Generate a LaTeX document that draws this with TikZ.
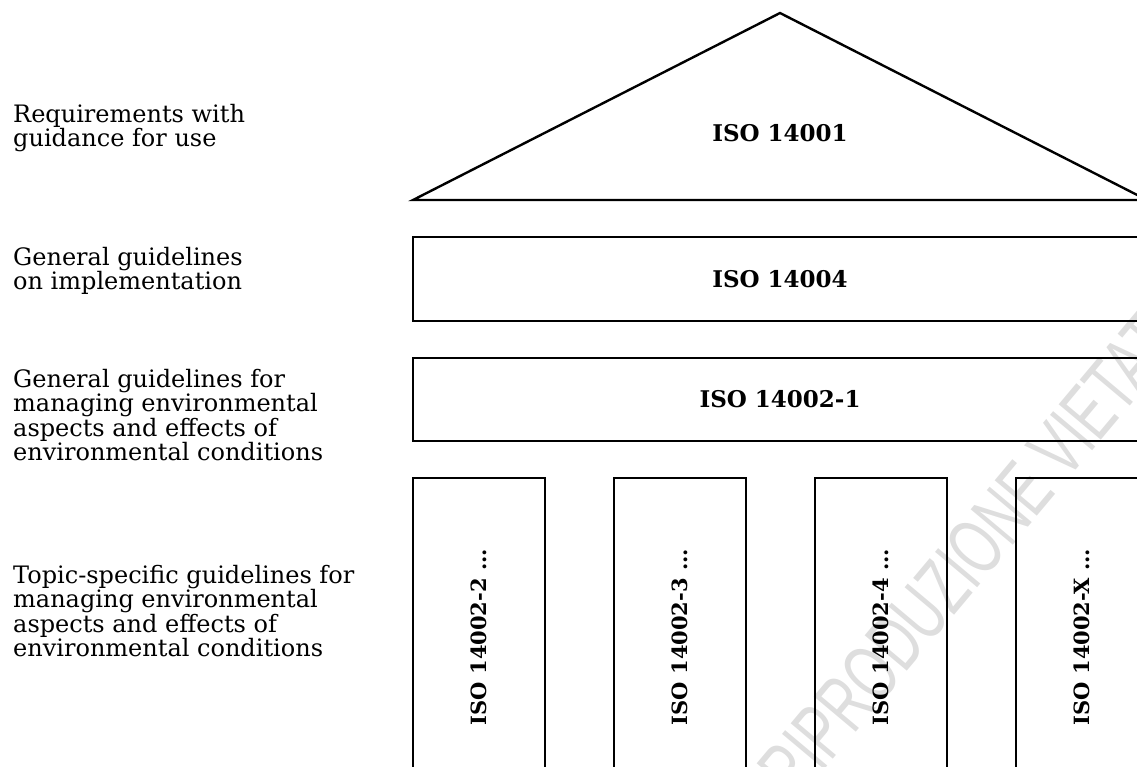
\documentclass[tikz,border=0pt]{standalone}
\usepackage{fontspec}
\setmainfont{DejaVu Serif}
\newfontfamily\wmfont{Liberation Sans}
\begin{document}
\begin{tikzpicture}[x=1pt,y=-1pt,line width=2.4pt,font=\fontsize{24}{24.5}\selectfont]

\tikzstyle{band}=[draw=black,line width=2.4pt,minimum width=734pt,inner sep=0pt]
\tikzstyle{pillar}=[draw=black,line width=2.4pt,minimum width=132pt,minimum height=318pt,inner sep=0pt]
\tikzstyle{iso}=[font=\fontsize{23}{26}\selectfont\bfseries]
\tikzstyle{isovert}=[font=\fontsize{21}{24}\selectfont\bfseries,rotate=90]
\tikzstyle{desc}=[anchor=west,align=left,inner sep=0pt]

    \useasboundingbox (0,0) rectangle (1137,766);
    \clip (0,0) rectangle (1137,766);

    % watermark
    \node[rotate=50,anchor=base west,text=black!13,font=\fontsize{80}{80}\wmfont,xscale=.66] (wm) at (795,805) {RIPRODUZIONE VIETATA};

    % roof
    \coordinate (apex) at (780,13);
    \coordinate (bl) at (413,200);
    \coordinate (br) at (1147,200);
    \draw (bl) -- (apex) -- (br) -- cycle;
    \node[iso] (s14001) at (780,133) {ISO 14001};

    % bands
    \node[band,minimum height=84pt] (s14004) at (780,279) {};
    \node[iso] at (s14004.center) {ISO 14004};
    \node[band,minimum height=83pt] (s140021) at (780,399.5) {};
    \node[iso] at (s140021.center) {ISO 14002-1};

    % pillars
    \node[pillar] (p2) at (479,637) {};
    \node[pillar] (p3) at (680,637) {};
    \node[pillar] (p4) at (881,637) {};
    \node[pillar] (px) at (1082,637) {};
    \node[isovert] at (p2.center) {ISO 14002-2 ...};
    \node[isovert] at (p3.center) {ISO 14002-3 ...};
    \node[isovert] at (p4.center) {ISO 14002-4 ...};
    \node[isovert] at (px.center) {ISO 14002-X ...};

    % descriptions
    \node[desc] (d1) at (12,128) {Requirements with\\guidance for use};
    \node[desc] (d2) at (12,271) {General guidelines\\on implementation};
    \node[desc] (d3) at (12,415) {General guidelines for\\managing environmental\\aspects and effects of\\environmental conditions};
    \node[desc] (d4) at (12,611) {Topic-specific guidelines for\\managing environmental\\aspects and effects of\\environmental conditions};

\end{tikzpicture}
\end{document}
